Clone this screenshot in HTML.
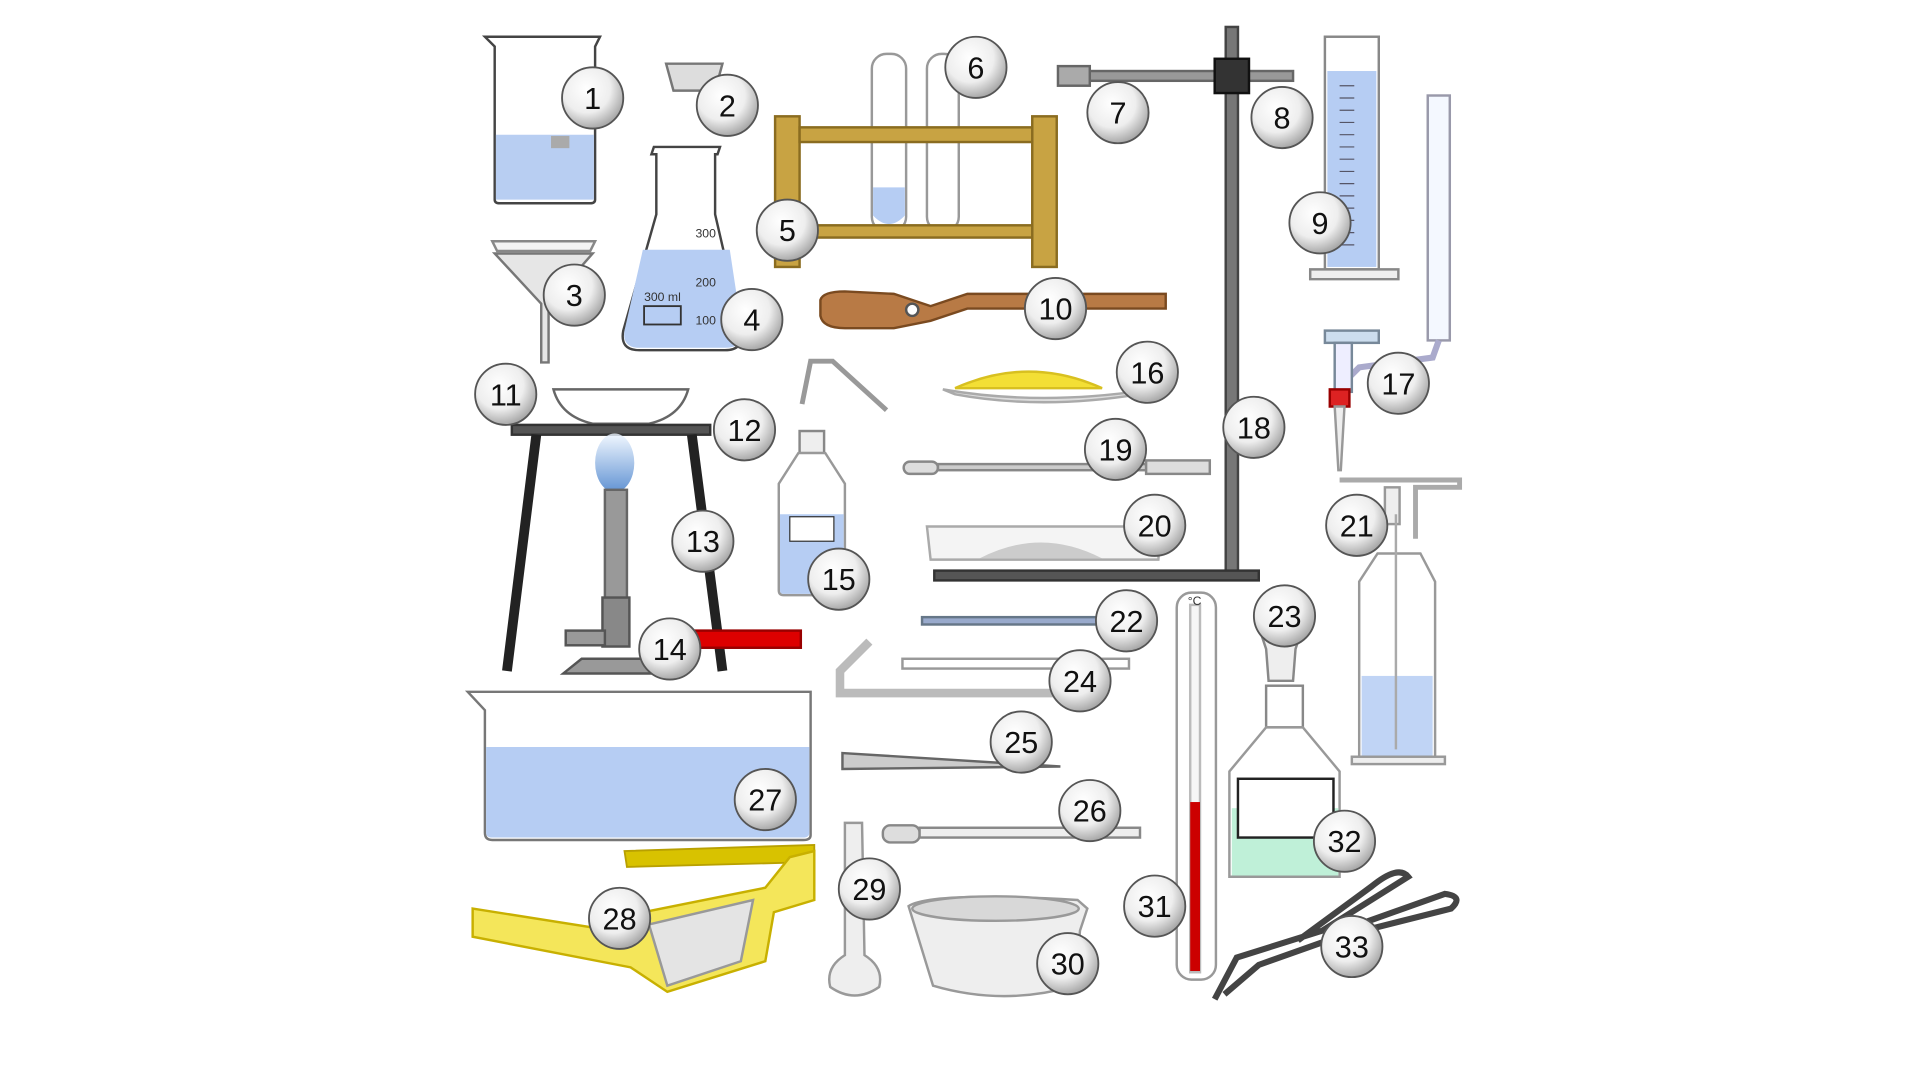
<!DOCTYPE html>
<html><head><style>html,body{margin:0;padding:0;background:#fff;width:1920px;height:1080px;overflow:hidden}svg{display:block}text{font-family:"Liberation Sans",sans-serif}</style></head><body>
<svg width="1920" height="1080" viewBox="0 0 1568 882" xmlns="http://www.w3.org/2000/svg">
<defs>
<radialGradient id="lg" cx="40%" cy="35%" r="65%"><stop offset="0" stop-color="#fff"/><stop offset="0.6" stop-color="#eee"/><stop offset="1" stop-color="#aaa"/></radialGradient>
<linearGradient id="fl" x1="0" y1="0" x2="0" y2="1"><stop offset="0" stop-color="#eef6ff"/><stop offset="1" stop-color="#3a78c8"/></linearGradient>
</defs>
<g stroke="#444" stroke-width="2" fill="none">
<path d="M396 30 L490 30 L486 38 L486 163 Q486 166 482 166 L408 166 Q404 166 404 163 L404 38 Z" fill="#fff"/>
<path d="M405 110 L485 110 L485 163 L405 163 Z" fill="#b8cef2" stroke="none"/>
<rect x="450" y="111" width="15" height="10" fill="#aaa" stroke="none"/>
<path d="M544 52 L590 52 L584 74 L550 74 Z" fill="#ddd" stroke="#777"/>
<path d="M402 197 L486 197 L482 205 L406 205 Z" fill="#f4f4f4" stroke="#888"/>
<path d="M404 207 L484 207 L448 248 L448 296 L442 296 L442 248 Z" fill="#e6e6e6" stroke="#777"/>
<path d="M534 120 L588 120 L586 126 L584 126 L584 175 L606 270 Q608 286 592 286 L522 286 Q506 286 509 270 L536 175 L536 126 L532 126 Z" fill="#fff"/>
<path d="M525 204 L596 204 L606 270 Q608 284 592 284 L522 284 Q508 284 510 270 Z" fill="#b6cdf3" stroke="none"/>
<rect x="526" y="250" width="30" height="15" stroke="#333" stroke-width="1.5"/>
<text x="526" y="246" font-size="10" fill="#333" stroke="none">300 ml</text>
<text x="568" y="194" font-size="10" fill="#333" stroke="none">300</text>
<text x="568" y="234" font-size="10" fill="#333" stroke="none">200</text>
<text x="568" y="265" font-size="10" fill="#333" stroke="none">100</text>
<rect x="712" y="44" width="28" height="145" rx="12" fill="#fff" stroke="#999"/>
<rect x="757" y="44" width="26" height="145" rx="12" fill="#fff" stroke="#999"/>
<path d="M713 153 L739 153 L739 176 Q726 190 713 176 Z" fill="#b6cdf3" stroke="none"/>
<rect x="633" y="95" width="20" height="123" fill="#c8a343" stroke="#8a6c20"/>
<rect x="843" y="95" width="20" height="123" fill="#c8a343" stroke="#8a6c20"/>
<rect x="653" y="104" width="190" height="12" fill="#c8a343" stroke="#8a6c20"/>
<rect x="653" y="184" width="190" height="10" fill="#c8a343" stroke="#8a6c20"/>
<rect x="1001" y="22" width="10" height="446" fill="#777" stroke="#444"/>
<rect x="763" y="466" width="265" height="8" fill="#555" stroke="#333"/>
<rect x="866" y="58" width="190" height="8" fill="#999" stroke="#666"/>
<rect x="864" y="54" width="26" height="16" fill="#aaa" stroke="#666"/>
<rect x="992" y="48" width="28" height="28" fill="#333" stroke="#111"/>
<rect x="1082" y="30" width="44" height="190" fill="#fff" stroke="#888"/>
<rect x="1084" y="58" width="40" height="160" fill="#b6cdf3" stroke="none"/>
<path d="M1070 220 L1142 220 L1142 228 L1070 228 Z" fill="#eee" stroke="#888"/>
<g stroke="#556" stroke-width="1"><path d="M1094 70 H1106 M1094 80 H1106 M1094 90 H1106 M1094 100 H1106 M1094 110 H1106 M1094 120 H1106 M1094 130 H1106 M1094 140 H1106 M1094 150 H1106 M1094 160 H1106 M1094 170 H1106 M1094 180 H1106 M1094 190 H1106 M1094 200 H1106"/></g>
<rect x="1166" y="78" width="18" height="200" fill="#f4f8ff" stroke="#99a"/>
<path d="M1175 278 L1170 292 L1110 300 L1100 310" stroke="#aac" stroke-width="5"/>
<rect x="1082" y="270" width="44" height="10" fill="#cde" stroke="#789"/>
<rect x="1090" y="280" width="14" height="40" fill="#eef" stroke="#789"/>
<rect x="1086" y="318" width="16" height="14" fill="#d22" stroke="#900"/>
<path d="M1090 332 L1098 332 L1095 384 L1093 384 Z" fill="#eee" stroke="#999"/>
<path d="M670 245 Q672 238 690 238 L730 240 L760 250 L790 240 L952 240 L952 252 L790 252 L760 262 L730 268 L690 268 Q672 268 670 258 Z" fill="#b87a45" stroke="#7a4a20"/>
<circle cx="745" cy="253" r="5" fill="#fff" stroke="#555"/>
<path d="M452 318 L562 318 Q556 340 530 346 L484 346 Q458 340 452 318 Z" fill="#fff" stroke="#666"/>
<rect x="418" y="347" width="162" height="8" fill="#555" stroke="#333"/>
<path d="M438 355 L414 548 M565 355 L590 548" stroke="#222" stroke-width="8"/>
<ellipse cx="502" cy="378" rx="16" ry="24" fill="url(#fl)" stroke="none" opacity="0.8"/>
<rect x="494" y="400" width="18" height="90" fill="#999" stroke="#666"/>
<rect x="492" y="488" width="22" height="40" fill="#888" stroke="#555"/>
<rect x="462" y="515" width="32" height="12" fill="#999" stroke="#555"/>
<path d="M475 538 L530 538 L542 550 L460 550 Z" fill="#999" stroke="#555"/>
<rect x="562" y="515" width="92" height="14" fill="#d00" stroke="#900"/>
<path d="M655 330 L662 295 L680 295 L724 335" stroke="#999" stroke-width="4"/>
<rect x="653" y="352" width="20" height="18" fill="#eee" stroke="#888"/>
<path d="M652 370 L674 370 L690 395 L690 482 Q690 486 686 486 L640 486 Q636 486 636 482 L636 395 Z" fill="#fff" stroke="#999"/>
<path d="M637 420 L689 420 L689 482 Q689 485 686 485 L640 485 Q637 485 637 482 Z" fill="#b6cdf3" stroke="none"/>
<rect x="645" y="422" width="36" height="20" fill="#fff" stroke="#333" stroke-width="1"/>
<path d="M770 318 Q850 332 940 318 L930 322 Q850 335 780 322 Z" fill="#ddd" stroke="#aaa"/>
<path d="M780 317 Q840 290 900 317 Z" fill="#f3df35" stroke="#d8c020"/>
<rect x="738" y="377" width="28" height="10" rx="5" fill="#ddd" stroke="#888"/>
<rect x="766" y="379" width="170" height="5" fill="#ccc" stroke="#888"/>
<rect x="936" y="376" width="52" height="11" fill="#ddd" stroke="#888"/>
<path d="M757 430 L948 430 L946 457 L760 457 Z" fill="#f4f4f4" stroke="#aaa"/>
<path d="M800 456 Q850 430 900 456 Z" fill="#ccc" stroke="none"/>
<path d="M1094 392 L1192 392 L1192 398 L1156 398 L1156 440" stroke="#aaa" stroke-width="4"/>
<rect x="1131" y="398" width="12" height="30" fill="#eee" stroke="#999"/>
<path d="M1125 452 L1160 452 L1172 475 L1172 620 L1110 620 L1110 475 Z" fill="#fff" stroke="#999"/>
<rect x="1112" y="552" width="58" height="66" fill="#c0d4f5" stroke="none"/>
<path d="M1140 420 L1140 612" stroke="#aaa"/>
<rect x="1104" y="618" width="76" height="6" fill="#eee" stroke="#999"/>
<rect x="753" y="504" width="145" height="6" fill="#9ac" stroke="#678"/>
<rect x="737" y="538" width="185" height="8" fill="#fff" stroke="#999"/>
<path d="M710 524 L686 548 L686 566 L860 566" stroke="#bbb" stroke-width="7"/>
<path d="M688 615 L866 626 L688 628 Z" fill="#ccc" stroke="#666"/>
<rect x="721" y="674" width="30" height="14" rx="6" fill="#ddd" stroke="#888"/>
<rect x="751" y="676" width="180" height="8" fill="#eee" stroke="#888"/>
<path d="M382 565 L662 565 L662 682 Q662 686 656 686 L402 686 Q396 686 396 680 L396 580 Z" fill="#fff" stroke="#777"/>
<path d="M397 610 L661 610 L661 680 Q661 684 656 684 L402 684 Q397 684 397 680 Z" fill="#b6cdf3" stroke="none"/>
<path d="M510 695 L665 690 L665 704 L512 708 Z" fill="#d8c200" stroke="#b8a000" stroke-width="1.5"/>
<path d="M386 742 L500 760 L525 745 L625 725 L645 700 L665 695 L665 735 L632 745 L625 785 L545 810 L515 790 L386 765 Z" fill="#f4e65a" stroke="#c8b000"/>
<path d="M530 755 L615 735 L605 785 L545 805 Z" fill="#e4e4e4" stroke="#999"/>
<path d="M690 672 L704 672 L706 780 Q722 790 718 806 Q698 820 678 806 Q674 790 690 780 Z" fill="#eee" stroke="#999"/>
<path d="M742 740 Q760 728 880 735 L888 742 L882 760 L878 805 Q820 822 762 805 Z" fill="#eee" stroke="#999"/>
<ellipse cx="813" cy="742" rx="68" ry="10" fill="#d8d8d8" stroke="#999"/>
<rect x="961" y="484" width="32" height="316" rx="12" fill="#fff" stroke="#999"/>
<rect x="972" y="494" width="8" height="300" fill="#f6f6f6" stroke="#bbb"/>
<rect x="972" y="655" width="8" height="138" fill="#c00" stroke="none"/>
<text x="970" y="494" font-size="10" fill="#333" stroke="none">°C</text>
<path d="M1030 518 L1062 518 L1058 530 L1056 556 L1036 556 L1034 530 Z" fill="#eee" stroke="#888"/>
<rect x="1034" y="560" width="30" height="34" fill="#fff" stroke="#888"/>
<path d="M1034 594 L1064 594 L1094 630 L1094 716 L1004 716 L1004 630 Z" fill="#fff" stroke="#999"/>
<rect x="1006" y="660" width="87" height="55" fill="#bff0d8" stroke="none"/>
<rect x="1011" y="636" width="78" height="48" fill="#fff" stroke="#222"/>
<path d="M992 816 L1010 782 L1080 760 L1150 716 Q1142 706 1120 724 L1060 768" stroke="#444" stroke-width="5"/>
<path d="M1000 812 L1028 788 L1090 766 L1185 742 Q1196 732 1180 730 L1090 762" stroke="#444" stroke-width="5"/>
</g>
<g stroke="#555" stroke-width="1.5" fill="url(#lg)">
<circle cx="484" cy="80" r="25"/><circle cx="594" cy="86" r="25"/><circle cx="469" cy="241" r="25"/><circle cx="614" cy="261" r="25"/><circle cx="643" cy="188" r="25"/><circle cx="797" cy="55" r="25"/><circle cx="913" cy="92" r="25"/><circle cx="1047" cy="96" r="25"/><circle cx="1078" cy="182" r="25"/><circle cx="862" cy="252" r="25"/><circle cx="413" cy="322" r="25"/><circle cx="608" cy="351" r="25"/><circle cx="574" cy="442" r="25"/><circle cx="547" cy="530" r="25"/><circle cx="685" cy="473" r="25"/><circle cx="937" cy="304" r="25"/><circle cx="1142" cy="313" r="25"/><circle cx="1024" cy="349" r="25"/><circle cx="911" cy="367" r="25"/><circle cx="943" cy="429" r="25"/><circle cx="1108" cy="429" r="25"/><circle cx="920" cy="507" r="25"/><circle cx="1049" cy="503" r="25"/><circle cx="882" cy="556" r="25"/><circle cx="834" cy="606" r="25"/><circle cx="890" cy="662" r="25"/><circle cx="625" cy="653" r="25"/><circle cx="506" cy="750" r="25"/><circle cx="710" cy="726" r="25"/><circle cx="872" cy="787" r="25"/><circle cx="943" cy="740" r="25"/><circle cx="1098" cy="687" r="25"/><circle cx="1104" cy="773" r="25"/>
</g>
<g font-size="25" text-anchor="middle" fill="#111">
<text x="484" y="89">1</text><text x="594" y="95">2</text><text x="469" y="250">3</text><text x="614" y="270">4</text><text x="643" y="197">5</text><text x="797" y="64">6</text><text x="913" y="101">7</text><text x="1047" y="105">8</text><text x="1078" y="191">9</text><text x="862" y="261">10</text><text x="413" y="331">11</text><text x="608" y="360">12</text><text x="574" y="451">13</text><text x="547" y="539">14</text><text x="685" y="482">15</text><text x="937" y="313">16</text><text x="1142" y="322">17</text><text x="1024" y="358">18</text><text x="911" y="376">19</text><text x="943" y="438">20</text><text x="1108" y="438">21</text><text x="920" y="516">22</text><text x="1049" y="512">23</text><text x="882" y="565">24</text><text x="834" y="615">25</text><text x="890" y="671">26</text><text x="625" y="662">27</text><text x="506" y="759">28</text><text x="710" y="735">29</text><text x="872" y="796">30</text><text x="943" y="749">31</text><text x="1098" y="696">32</text><text x="1104" y="782">33</text>
</g>
</svg>
</body></html>
